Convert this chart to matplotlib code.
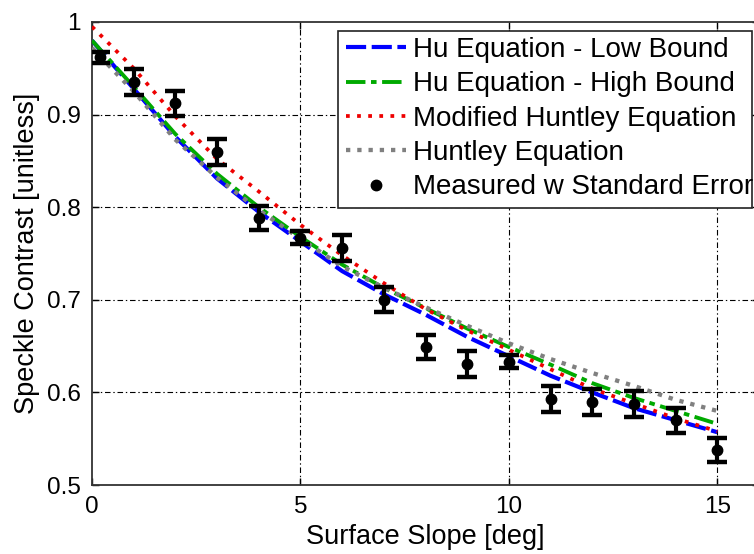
import matplotlib
matplotlib.use("Agg")
import matplotlib.pyplot as plt
from matplotlib.lines import Line2D
from matplotlib.patches import Rectangle

plt.rcParams['font.family'] = ['Liberation Sans', 'DejaVu Sans']
plt.rcParams['lines.scale_dashes'] = False

# ---- data ----
x_curve = [0, 1, 2, 3, 4, 5, 6, 7, 8, 9, 10, 11, 12, 13, 14, 15]
hu_low = [0.980, 0.928, 0.876, 0.831, 0.795, 0.763, 0.731, 0.706, 0.684, 0.660, 0.639, 0.618, 0.600, 0.583, 0.570, 0.557]
hu_high = [0.980, 0.930, 0.879, 0.836, 0.800, 0.768, 0.738, 0.713, 0.691, 0.669, 0.649, 0.630, 0.610, 0.594, 0.580, 0.566]
mod_huntley = [0.995, 0.950, 0.898, 0.852, 0.817, 0.781, 0.748, 0.718, 0.690, 0.667, 0.646, 0.625, 0.604, 0.588, 0.572, 0.558]
huntley = [0.972, 0.925, 0.873, 0.832, 0.797, 0.766, 0.736, 0.713, 0.692, 0.672, 0.653, 0.636, 0.621, 0.607, 0.592, 0.580]

x_meas = [0.2, 1, 2, 3, 4, 5, 6, 7, 8, 9, 10, 11, 12, 13, 14, 15]
y_meas = [0.962, 0.935, 0.912, 0.860, 0.788, 0.767, 0.756, 0.700, 0.649, 0.631, 0.633, 0.593, 0.590, 0.587, 0.570, 0.538]
err_meas = [0.006, 0.014, 0.013, 0.014, 0.013, 0.007, 0.014, 0.0135, 0.013, 0.014, 0.007, 0.014, 0.014, 0.014, 0.0135, 0.013]

labels = ['Hu Equation - Low Bound', 'Hu Equation - High Bound',
          'Modified Huntley Equation', 'Huntley Equation',
          'Measured w Standard Error']
x_ticks = [0, 5, 10, 15]
y_ticks = [0.5, 0.6, 0.7, 0.8, 0.9, 1.0]
y_ticklabels = ['0.5', '0.6', '0.7', '0.8', '0.9', '1']

W, H = 754, 554
fig = plt.figure(figsize=(W / 100, H / 100), dpi=100)
ax = fig.add_axes([92 / W, 1 - 485 / H, (759 - 92) / W, (485 - 22) / H])

grid_style = dict(color='black', linewidth=0.8, linestyle=(0, (4, 2, 1, 2)), zorder=0)
for xv in x_ticks[1:]:
    ax.axvline(xv, **grid_style)
for yv in y_ticks[1:-1]:
    ax.axhline(yv, **grid_style)

blue_style = dict(color='#0000ff', lw=3.0, dashes=(14.5, 4))
green_style = dict(color='#00aa00', lw=2.8, dashes=(14, 4, 4, 4))
red_style = dict(color='#ee0000', lw=2.7, dashes=(2.7, 5.3))
gray_style = dict(color='#808080', lw=3.1, dashes=(3.1, 5.0))

ax.plot(x_curve, hu_low, zorder=3, **blue_style)
ax.plot(x_curve, hu_high, zorder=3, **green_style)
ax.plot(x_curve, mod_huntley, zorder=4, **red_style)
ax.plot(x_curve, huntley, zorder=4, **gray_style)

ax.errorbar(x_meas, y_meas, yerr=err_meas, fmt='o', color='black', ms=7.5,
            elinewidth=3.0, capsize=7.5, capthick=3.2, zorder=5)

ax.set_xlim(0, 16)
ax.set_ylim(0.5, 1.0)
ax.set_xticks(x_ticks)
ax.set_yticks(y_ticks)
ax.set_yticklabels(y_ticklabels)
ax.tick_params(direction='in', length=5, width=1, labelsize=17.5, colors='black',
               top=True, right=True, pad=8)
for s in ax.spines.values():
    s.set_color('#333333')
    s.set_linewidth(1.3)

ax.set_xlabel('Surface Slope [deg]', fontsize=19.5, labelpad=4)
ax.set_ylabel('Speckle Contrast [unitless]', fontsize=19.5, labelpad=5)

handles = [
    Line2D([], [], **blue_style),
    Line2D([], [], **green_style),
    Line2D([], [], **red_style),
    Line2D([], [], **gray_style),
    Line2D([], [], color='black', marker='o', ms=7.5, linestyle='none'),
]
leg = fig.legend(handles, labels, loc='upper left',
                 bbox_to_anchor=(346 / W, 1 - 37 / H), bbox_transform=fig.transFigure,
                 frameon=False, fontsize=20, handlelength=2.15, handletextpad=0.25,
                 labelspacing=0.3, borderaxespad=0, borderpad=0)
fig.patches.append(Rectangle((338 / W, 1 - 208 / H), (752 - 338) / W, (208 - 31) / H,
                             transform=fig.transFigure, facecolor='white',
                             edgecolor='#222222', linewidth=1.2, zorder=0.5))

fig.savefig('out.png', dpi=100)
